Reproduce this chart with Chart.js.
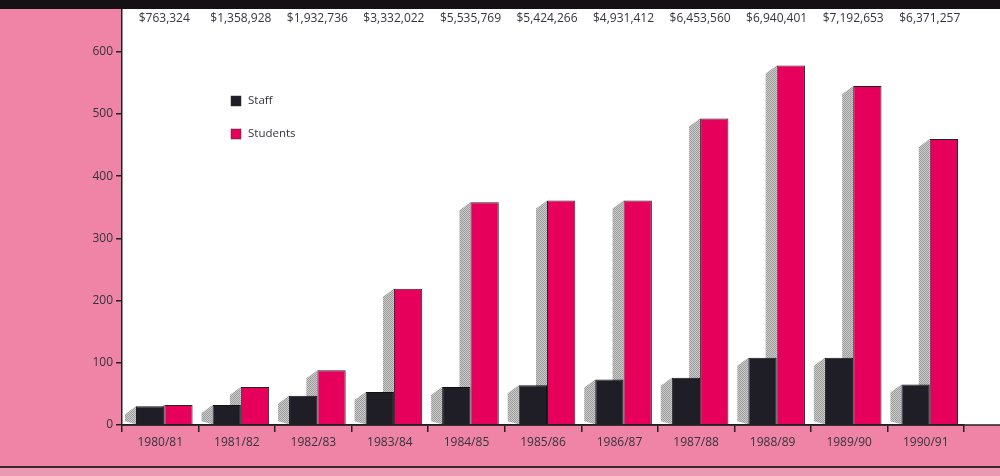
<!DOCTYPE html>
<html>
<head>
<meta charset="utf-8">
<script src="https://cdn.jsdelivr.net/npm/chart.js@4.4.1/dist/chart.umd.min.js"></script>
<style>
  html, body { margin: 0; padding: 0; background: #f084a6; }
  canvas { display: block; }
</style>
</head>
<body>
<canvas id="c" width="1000" height="476"></canvas>
<script>
// ---- data ----
const categories = ['1980/81', '1981/82', '1982/83', '1983/84', '1984/85', '1985/86',
                    '1986/87', '1987/88', '1988/89', '1989/90', '1990/91'];
const staff    = [30, 32, 47, 53, 61, 64, 73, 76, 108, 108, 65];
const students = [32, 61, 88, 219, 358, 361, 361, 493, 578, 545, 460];
const funding  = ['$763,324', '$1,358,928', '$1,932,736', '$3,332,022', '$5,535,769', '$5,424,266',
                  '$4,931,412', '$6,453,560', '$6,940,401', '$7,192,653', '$6,371,257'];
const yTickValues = [0, 100, 200, 300, 400, 500, 600];
const seriesNames = ['Staff', 'Students'];

// ---- styles ----
const PINK_BG = '#f084a6';
const STAFF_COL = '#1f1e26';
const STUD_COL = '#e6005c';
const TEXT_COL = '#34343c';
const FONT = '"Open Sans", "DejaVu Sans", sans-serif';
const GROUP_SHIFT = 4;

function stipple() {
  const p = document.createElement('canvas');
  p.width = 2; p.height = 2;
  const g = p.getContext('2d');
  g.fillStyle = '#cbcbcb'; g.fillRect(0, 0, 2, 2);
  g.fillStyle = '#9c9c9c';
  g.fillRect(0, 0, 1, 1); g.fillRect(1, 1, 1, 1);
  return p;
}
const stippleCanvas = stipple();

const backgroundPlugin = {
  id: 'bg',
  beforeDraw(chart) {
    const { ctx, chartArea, width, height } = chart;
    ctx.save();
    ctx.fillStyle = PINK_BG;
    ctx.fillRect(0, 0, width, height);
    ctx.fillStyle = '#ffffff';
    ctx.fillRect(chartArea.left, 0, width - chartArea.left, chartArea.bottom);
    ctx.fillStyle = '#141014';
    ctx.fillRect(0, 0, width, 9);
    ctx.fillStyle = '#3a2a30';
    ctx.fillRect(0, 466, width, 2);
    ctx.fillStyle = '#eb98b2';
    ctx.fillRect(0, 468, width, height - 468);
    ctx.restore();
  }
};

const shadowPlugin = {
  id: 'shadows',
  beforeDatasetsDraw(chart) {
    const { ctx } = chart;
    const pat = ctx.createPattern(stippleCanvas, 'repeat');
    ctx.save();
    ctx.translate(GROUP_SHIFT, 0);
    chart.data.datasets.forEach((ds, i) => {
      chart.getDatasetMeta(i).data.forEach(bar => {
        const L = bar.x - bar.width / 2;
        const T = bar.y, B = bar.base;
        const dx = 11, dy = 8;
        ctx.beginPath();
        ctx.moveTo(L, T);
        ctx.lineTo(L - dx, Math.min(T + dy, B - 3));
        ctx.lineTo(L - dx, B - 3);
        ctx.lineTo(L, B);
        ctx.closePath();
        ctx.fillStyle = pat;
        ctx.fill();
      });
    });
    ctx.restore();
    // shift the bar group slightly right, as in the original
    ctx.save();
    ctx.translate(GROUP_SHIFT, 0);
  },
  afterDatasetsDraw(chart) {
    chart.ctx.restore();
  }
};

const overlayPlugin = {
  id: 'overlay',
  afterDraw(chart) {
    const { ctx, chartArea, width } = chart;
    const xs = chart.scales.x;
    ctx.save();
    ctx.strokeStyle = '#222';
    ctx.lineWidth = 1.5;
    ctx.beginPath();
    ctx.moveTo(chartArea.left, chartArea.bottom);
    ctx.lineTo(width, chartArea.bottom);
    ctx.stroke();
    // funding labels
    ctx.fillStyle = TEXT_COL;
    ctx.font = '12px ' + FONT;
    ctx.textAlign = 'center';
    ctx.textBaseline = 'middle';
    funding.forEach((t, i) => {
      ctx.fillText(t, xs.getPixelForValue(i) + 4, 19);
    });
    // legend
    const cols = [STAFF_COL, STUD_COL];
    const lx = 231, ly = [101, 134];
    ctx.textAlign = 'left';
    ctx.font = '11.5px ' + FONT;
    seriesNames.forEach((n, i) => {
      ctx.fillStyle = cols[i];
      ctx.fillRect(lx, ly[i] - 5, 10, 10);
      ctx.strokeStyle = '#333';
      ctx.lineWidth = 0.5;
      ctx.strokeRect(lx, ly[i] - 5, 10, 10);
      ctx.fillStyle = TEXT_COL;
      ctx.fillText(n, lx + 17, ly[i]);
    });
    ctx.restore();
  }
};

new Chart(document.getElementById('c'), {
  type: 'bar',
  data: {
    labels: categories,
    datasets: [
      { label: seriesNames[0], data: staff, backgroundColor: STAFF_COL, borderColor: '#111', borderWidth: 1 },
      { label: seriesNames[1], data: students, backgroundColor: STUD_COL, borderColor: '#222', borderWidth: 1 }
    ]
  },
  options: {
    responsive: false,
    animation: false,
    devicePixelRatio: 1,
    categoryPercentage: 0.74,
    barPercentage: 1.0,
    layout: { padding: { left: 0, right: 36, top: 10, bottom: 0 } },
    plugins: { legend: { display: false }, tooltip: { enabled: false } },
    scales: {
      x: {
        grid: { display: true, drawOnChartArea: false, drawTicks: true, tickLength: 7, color: '#222', lineWidth: 1.5, offset: true },
        border: { display: true, color: '#222', width: 1.5 },
        ticks: { color: TEXT_COL, font: { family: FONT, size: 12 }, padding: 3, maxRotation: 0 },
        afterFit(s) { s.height = 51; }
      },
      y: {
        min: 0,
        max: 667,
        grid: { display: true, drawOnChartArea: false, drawTicks: true, tickLength: 6, color: '#222', lineWidth: 1.5 },
        border: { display: true, color: '#222', width: 1.5 },
        ticks: { color: TEXT_COL, font: { family: FONT, size: 12 }, padding: 3, stepSize: 100 },
        afterBuildTicks(axis) { axis.ticks = yTickValues.map(v => ({ value: v })); },
        afterFit(s) { s.width = 122; }
      }
    }
  },
  plugins: [backgroundPlugin, shadowPlugin, overlayPlugin]
});
</script>
</body>
</html>
